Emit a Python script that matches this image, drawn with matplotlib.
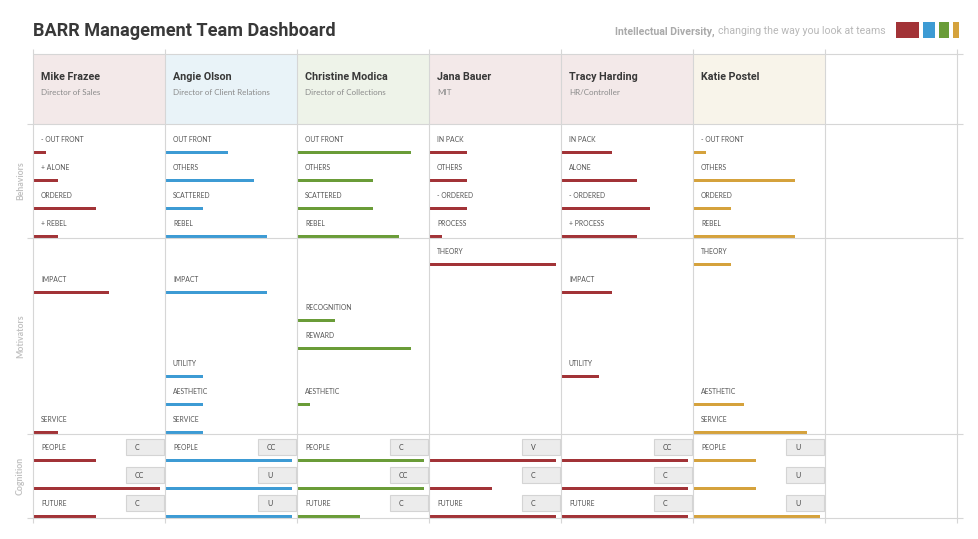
import matplotlib
matplotlib.use("Agg")
import matplotlib.pyplot as plt
from matplotlib import font_manager
from matplotlib.patches import Rectangle

# --- datos ---
nombres = ["Mike Frazee", "Angie Olson", "Christine Modica", "Jana Bauer", "Tracy Harding", "Katie Postel"]
cargos = ["Director of Sales", "Director of Client Relations", "Director of Collections", "MIT", "HR/Controller", ""]
color_clave = ["red", "blue", "green", "red", "red", "gold"]

comp_labels = [
    ["- OUT FRONT", "+ ALONE", "ORDERED", "+ REBEL"],
    ["OUT FRONT", "OTHERS", "SCATTERED", "REBEL"],
    ["OUT FRONT", "OTHERS", "SCATTERED", "REBEL"],
    ["IN PACK", "OTHERS", "- ORDERED", "PROCESS"],
    ["IN PACK", "ALONE", "- ORDERED", "+ PROCESS"],
    ["- OUT FRONT", "OTHERS", "ORDERED", "REBEL"],
]
comp_valores = [
    [1, 2, 5, 2],
    [5, 7, 3, 8],
    [9, 6, 6, 8],
    [3, 3, 3, 1],
    [4, 6, 7, 6],
    [1, 8, 3, 8],
]

motivadores = ["THEORY", "IMPACT", "RECOGNITION", "REWARD", "UTILITY", "AESTHETIC", "SERVICE"]
# None = no se muestra
mot_valores = [
    [None, 6, None, None, None, None, 2],
    [None, 8, None, None, 3, 3, 3],
    [None, None, 3, 9, None, 1, None],
    [10, None, None, None, None, None, None],
    [None, 4, None, None, 3, None, None],
    [3, None, None, None, None, 4, 9],
]

cog_labels = [
    ["PEOPLE", "", "FUTURE"],
    ["PEOPLE", "", ""],
    ["PEOPLE", "", "FUTURE"],
    ["", "", "FUTURE"],
    ["", "", "FUTURE"],
    ["PEOPLE", "", ""],
]
cog_codigos = [
    ["C", "CC", "C"],
    ["CC", "U", "U"],
    ["C", "CC", "C"],
    ["V", "C", "C"],
    ["CC", "C", "C"],
    ["U", "U", "U"],
]
cog_valores = [
    [5, 10, 5],
    [10, 10, 10],
    [10, 10, 5],
    [10, 5, 10],
    [10, 10, 10],
    [5, 5, 10],
]

# --- estilos ---
colores = {"red": "#a23337", "blue": "#3d9bd4", "green": "#6a9c38", "gold": "#d5a23c"}
fondos = {"red": "#f3e9e9", "blue": "#e9f3f8", "green": "#eef3e9", "gold": "#f8f4ea"}
GRIS = "#d6d6d6"
instaladas = {f.name for f in font_manager.fontManager.ttflist}
if "Liberation Sans Narrow" in instaladas:
    FUENTE_TIT = ["Liberation Sans Narrow", "DejaVu Sans"]
    ESC_TIT = 1.0
else:
    FUENTE_TIT = ["Roboto", "DejaVu Sans"]
    ESC_TIT = 0.9
FUENTE = ["Lato", "DejaVu Sans"]

X0 = 33       # borde izquierdo de la primera columna
ANCHO = 132   # ancho de columna
NCOL = 7
UNIDAD = 12.7  # px por punto de la escala 0..10
FILA = 28
TOP_HDR, TOP = 54, 124
secciones = [("Behaviors", 4, 2), ("Motivators", 7, 0), ("Cognition", 3, 0)]

fig = plt.figure(figsize=(9.79, 5.39), dpi=100)
ax = fig.add_axes([0, 0, 1, 1])
ax.set_xlim(0, 979)
ax.set_ylim(539, 0)
ax.axis("off")

# titulo y lema
ax.text(X0, 31, "BARR Management Team Dashboard", fontsize=14.5 * ESC_TIT, fontweight="bold",
        family=FUENTE_TIT, color="#383838", va="center", ha="left")
t2 = ax.text(886, 31.5, "changing the way you look at teams", fontsize=7.6,
             family=["Roboto", "DejaVu Sans"], color="#b8b8b8", va="center", ha="right")
ax.annotate("Intellectual Diversity,", xy=(0, 0.5), xycoords=t2, xytext=(-2.5, 0),
            textcoords="offset points", fontsize=7.6, fontweight="bold",
            family=["Roboto", "DejaVu Sans"], color="#aaaaaa", va="center", ha="right")

# muestras de color
xs = 896
for clave, w in zip(["red", "blue", "green", "gold"], [23, 12, 10, 6]):
    ax.add_patch(Rectangle((xs, 22), w, 16, color=colores[clave], lw=0))
    xs += w + 4

# limites de secciones
limites = [TOP]
for _, n, extra in secciones:
    limites.append(limites[-1] + n * FILA + extra)
y_fin = limites[-1]
x_fin = X0 + NCOL * ANCHO

# encabezados
for i in range(NCOL):
    xl = X0 + i * ANCHO
    fc = fondos[color_clave[i]] if i < len(nombres) else "white"
    ax.add_patch(Rectangle((xl, TOP_HDR), ANCHO, TOP - TOP_HDR, facecolor=fc, edgecolor="none"))
    if i < len(nombres):
        ax.text(xl + 8, 76.5, nombres[i], fontsize=8.6 * ESC_TIT, fontweight="bold", family=FUENTE_TIT,
                color="#383838", va="center")
        ax.text(xl + 8, 92.5, cargos[i], fontsize=5.8, family=FUENTE, color="#8a8a8a", va="center")

# rejilla
ax.hlines(TOP_HDR, X0, x_fin + 6, color=GRIS, lw=0.8)
for y in limites:
    ax.hlines(y, X0 - 6, x_fin + 6, color=GRIS, lw=0.8)
for i in range(NCOL + 1):
    ax.vlines(X0 + i * ANCHO, TOP_HDR - 5, y_fin + 5, color=GRIS, lw=0.8)

# etiquetas laterales
for (nombre, n, extra), y_ini, y_sig in zip(secciones, limites[:-1], limites[1:]):
    ax.text(20.5, (y_ini + y_sig) / 2, nombre, rotation=90, fontsize=6.3, fontweight="bold",
            family=FUENTE, color="#c2c2c2", ha="center", va="center")


def fila_y(sec, k):
    _, n, _ = secciones[sec]
    return limites[sec + 1] - 2 - (n - 1 - k) * FILA


def celda(xl, y, etiqueta, valor, color):
    if etiqueta:
        ax.text(xl + 8, y - 13, etiqueta, fontsize=4.9, family=FUENTE, color="#555555", va="center")
    ax.barh(y, valor * UNIDAD, left=xl, height=3, color=color, lw=0)


for i in range(len(nombres)):
    xl = X0 + i * ANCHO
    c = colores[color_clave[i]]
    # comportamientos
    for k, (lab, v) in enumerate(zip(comp_labels[i], comp_valores[i])):
        celda(xl, fila_y(0, k), lab, v, c)
    # motivadores
    for k, (lab, v) in enumerate(zip(motivadores, mot_valores[i])):
        if v is not None:
            celda(xl, fila_y(1, k), lab, v, c)
    # cognicion
    for k, (lab, cod, v) in enumerate(zip(cog_labels[i], cog_codigos[i], cog_valores[i])):
        y = fila_y(2, k)
        celda(xl, y, lab, v, c)
        ax.add_patch(Rectangle((xl + 93, y - 21), 38, 16, facecolor="#ececec",
                               edgecolor="#d4d4d4", lw=0.8))
        ax.text(xl + 102, y - 13, cod, fontsize=5, family=FUENTE, color="#444444", va="center")

fig.savefig("out.png", dpi=100, facecolor="white")
